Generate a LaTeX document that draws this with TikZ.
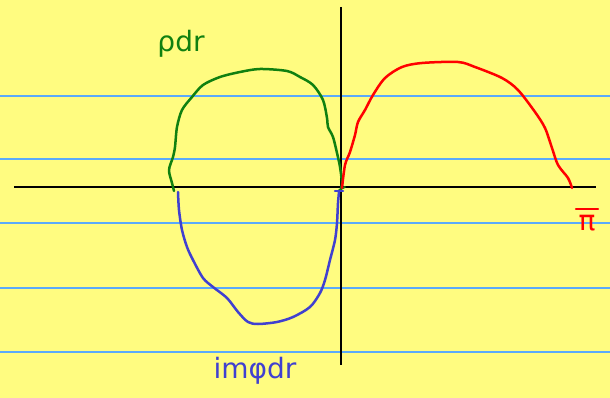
\documentclass[tikz,border=0pt]{standalone}
\usepackage{fontspec}
\setmainfont{DejaVu Sans}
\definecolor{paper}{RGB}{255,252,128}
\definecolor{rule}{RGB}{90,170,250}
\definecolor{pengreen}{RGB}{16,128,16}
\definecolor{penblue}{RGB}{64,64,208}
\definecolor{penred}{RGB}{255,0,0}
\begin{document}
\begin{tikzpicture}[x=1pt,y=-1pt,
  ruleline/.style={rule,line width=1.3pt},
  axis/.style={black,line width=2.8pt},
  pen/.style={line width=2.5pt,line cap=round,line join=round},
  label/.style={inner sep=0pt,font=\fontsize{28}{28}\selectfont}]
\fill[paper] (0,0) rectangle (610,398);
\useasboundingbox (0,0) rectangle (610,398);
\foreach \y in {96,159,223,288,352} \draw[ruleline] (0,\y) -- (610,\y);
\coordinate (xl) at (14,187);
\coordinate (xr) at (596,187);
\coordinate (yt) at (341,7);
\coordinate (yb) at (341,365);
\draw[axis] (xl) -- (xr);
\draw[axis] (yt) -- (yb);
% green
\draw[pen,pengreen] plot[smooth,tension=0.5] coordinates {(174,191) (172,183) (169,170) (173,157) (175,147) (177,127) (182,110) (192,97) (203,85) (220,77) (240,72) (260,69) (287,71) (300,77) (313,85) (323,100) (327,118) (328,127) (333,137) (337,153) (340,167) (342,183) (341,188)};
\draw[pen,pengreen,line width=1.8pt] (339,190) -- (345,187);
% blue
\draw[pen,penblue] plot[smooth,tension=0.5] coordinates {(178,192) (179,210) (182,230) (187,247) (193,260) (203,278) (213,287) (227,298) (238,312) (248,322) (258,324) (277,322) (293,317) (310,307) (320,293) (325,280) (330,260) (335,240) (337,223) (338,203) (339,192)};
\draw[pen,penblue] (335,191) -- (343,191);
% red
\draw[pen,penred] plot[smooth,tension=0.5] coordinates {(342,188) (345,165) (350,152) (355,135) (358,122) (365,110) (373,95) (385,78) (402,67) (422,63) (458,62) (475,67) (502,78) (518,90) (535,112) (545,128) (552,148) (558,165) (568,178) (572,188)};
% labels
\node[label,pengreen] (rhodr) at (181,44) {ρdr};
\node[label,penblue] (imphidr) at (255,371) {imφdr};
\node[label,penred] (pi) at (587,223) {π};
\draw[pen,penred,line width=2.2pt] (576,209) -- (598,209);
\end{tikzpicture}
\end{document}
